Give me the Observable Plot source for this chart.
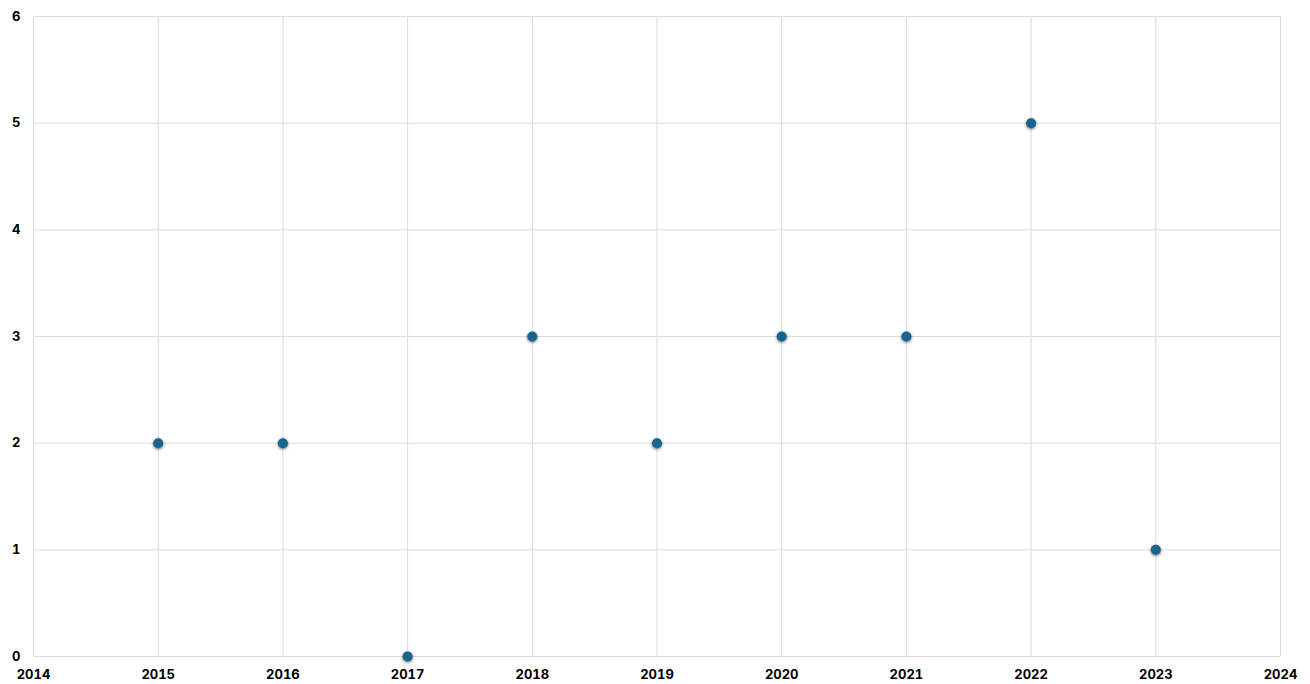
<!DOCTYPE html>
<html>
<head>
<meta charset="utf-8">
<script src="https://cdn.jsdelivr.net/npm/d3@7"></script>
<script src="https://cdn.jsdelivr.net/npm/@observablehq/plot@0.6"></script>
<style>
  html, body { margin: 0; padding: 0; background: #fff; }
  #chart svg, #chart svg text { font-family: "Inter", "Roboto", sans-serif !important; font-weight: 700; }
  #chart svg g.dots circle { filter: drop-shadow(0px 1px 1.5px rgba(0,0,0,0.6)); }
</style>
</head>
<body>
<div id="chart"></div>
<script>
const years = [2015, 2016, 2017, 2018, 2019, 2020, 2021, 2022, 2023];
const values = [2, 2, 0, 3, 2, 3, 3, 5, 1];
const xTicks = [2014, 2015, 2016, 2017, 2018, 2019, 2020, 2021, 2022, 2023, 2024];
const yTicks = [0, 1, 2, 3, 4, 5, 6];

const data = years.map((y, i) => ({year: y, value: values[i]}));

const chart = Plot.plot({
  width: 1310,
  height: 684,
  marginLeft: 33,
  marginRight: 30,
  marginTop: 16,
  marginBottom: 28,
  style: {fontSize: "13px", fontWeight: "bold", color: "#000", background: "#fff"},
  x: {domain: [2014, 2024], ticks: xTicks, tickFormat: d3.format("d"), label: null, tickSize: 0, tickPadding: 13},
  y: {domain: [0, 6], ticks: yTicks, tickFormat: d3.format("d"), label: null, tickSize: 0, tickPadding: 13},
  marks: [
    Plot.gridX(xTicks, {stroke: "#dddddd", strokeOpacity: 1}),
    Plot.gridY(yTicks, {stroke: "#dddddd", strokeOpacity: 1}),
    Plot.dot(data, {x: "year", y: "value", r: 5, fill: "#17648f", stroke: "none", className: "dots"}),
    Plot.axisX({ticks: xTicks, tickFormat: d3.format("d"), tickSize: 0, tickPadding: 13, label: null, fill: "#000"}),
    Plot.axisY({ticks: yTicks, tickFormat: d3.format("d"), tickSize: 0, tickPadding: 13, label: null, fill: "#000"})
  ]
});
document.getElementById("chart").appendChild(chart);
</script>
</body>
</html>
